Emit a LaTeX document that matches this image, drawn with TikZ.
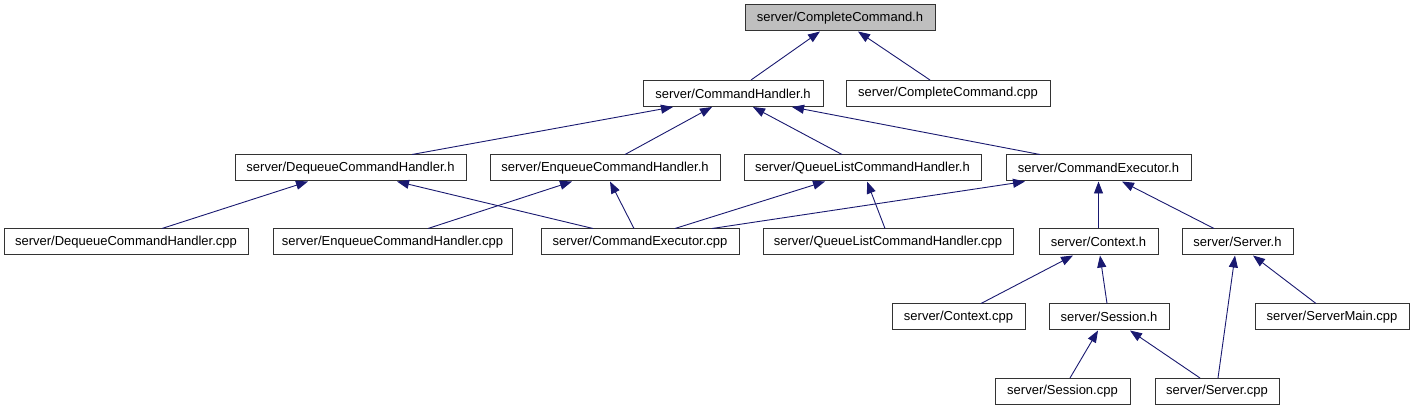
\documentclass[tikz,border=0pt]{standalone}
\usepackage{fontspec}
\setmainfont{Liberation Sans}
\usepackage{xcolor}
\usepackage{tikz}
\usetikzlibrary{arrows.meta}
\definecolor{depblue}{HTML}{191970}
\definecolor{topgray}{HTML}{BFBFBF}
\tikzset{
  file/.style={rectangle, draw=black!80, line width=1pt, fill=white, inner sep=0pt, minimum height=26pt, font=\fontsize{13}{15}\selectfont},
  root/.style={file, fill=topgray},
  dep/.style={draw=depblue, line width=0.9pt, -{Triangle[length=12pt, width=9pt]}},
}

\begin{document}
\begin{tikzpicture}[x=1pt, y=-1pt]
          \useasboundingbox (0,0) rectangle (1413,411);

          % row 1
          \node[root, minimum width=190pt] (completeh) at (840,18) {server/CompleteCommand.h};

          % row 2
          \node[file, minimum width=180pt] (handlerh) at (733,93.5) {server/CommandHandler.h};
          \node[file, minimum width=204pt] (completecpp) at (948,93.5) {server/CompleteCommand.cpp};

          % row 3
          \node[file, minimum width=231pt] (dequeueh) at (350.5,168) {server/DequeueCommandHandler.h};
          \node[file, minimum width=230pt] (enqueueh) at (605,168) {server/EnqueueCommandHandler.h};
          \node[file, minimum width=237pt] (queuelisth) at (862.5,168) {server/QueueListCommandHandler.h};
          \node[file, minimum width=185pt] (executorh) at (1098.5,168) {server/CommandExecutor.h};

          % row 4
          \node[file, minimum width=244pt] (dequeuecpp) at (126,242) {server/DequeueCommandHandler.cpp};
          \node[file, minimum width=239pt] (enqueuecpp) at (392.5,242) {server/EnqueueCommandHandler.cpp};
          \node[file, minimum width=198pt] (executorcpp) at (640,242) {server/CommandExecutor.cpp};
          \node[file, minimum width=250pt] (queuelistcpp) at (888,242) {server/QueueListCommandHandler.cpp};
          \node[file, minimum width=119pt] (contexth) at (1098.5,242) {server/Context.h};
          \node[file, minimum width=111pt] (serverh) at (1237.5,242) {server/Server.h};

          % row 5
          \node[file, minimum width=133pt] (contextcpp) at (958.5,317) {server/Context.cpp};
          \node[file, minimum width=120pt] (sessionh) at (1109,317) {server/Session.h};
          \node[file, minimum width=154pt] (servermaincpp) at (1332,317) {server/ServerMain.cpp};

          % row 6
          \node[file, minimum width=135pt] (sessioncpp) at (1062.5,391.5) {server/Session.cpp};
          \node[file, minimum width=124pt] (servercpp) at (1217,391.5) {server/Server.cpp};

          % includes
          \draw[dep] ([xshift=18pt]handlerh.north) -- ([xshift=-20pt]completeh.south);
          \draw[dep] ([xshift=-18pt]completecpp.north) -- ([xshift=18pt]completeh.south);

          \draw[dep] ([xshift=61.5pt]dequeueh.north) -- ([xshift=-60pt]handlerh.south);
          \draw[dep] ([xshift=20pt]enqueueh.north) -- ([xshift=-21pt]handlerh.south);
          \draw[dep] ([xshift=-20.5pt]queuelisth.north) -- ([xshift=20pt]handlerh.south);
          \draw[dep] ([xshift=-58.5pt]executorh.north) -- ([xshift=59pt]handlerh.south);

          \draw[dep] ([xshift=36pt]dequeuecpp.north) -- ([xshift=-42.5pt]dequeueh.south);
          \draw[dep] ([xshift=-47pt]executorcpp.north) -- ([xshift=46.5pt]dequeueh.south);
          \draw[dep] ([xshift=35.5pt]enqueuecpp.north) -- ([xshift=-33pt]enqueueh.south);
          \draw[dep] ([xshift=-6pt]executorcpp.north) -- ([xshift=5pt]enqueueh.south);
          \draw[dep] ([xshift=35pt]executorcpp.north) -- ([xshift=-37.5pt]queuelisth.south);
          \draw[dep] ([xshift=72pt]executorcpp.north) -- ([xshift=-73.5pt]executorh.south);
          \draw[dep] ([xshift=-3pt]queuelistcpp.north) -- ([xshift=4.5pt]queuelisth.south);
          \draw[dep] (contexth.north) -- (executorh.south);
          \draw[dep] ([xshift=-23.5pt]serverh.north) -- ([xshift=23.5pt]executorh.south);

          \draw[dep] ([xshift=22.5pt]contextcpp.north) -- ([xshift=-25.5pt]contexth.south);
          \draw[dep] ([xshift=-2pt]sessionh.north) -- ([xshift=1.5pt]contexth.south);
          \draw[dep] ([xshift=-16pt]servermaincpp.north) -- ([xshift=15.5pt]serverh.south);
          \draw[dep] ([xshift=1pt]servercpp.north) -- ([xshift=-2.5pt]serverh.south);

          \draw[dep] ([xshift=7.5pt]sessioncpp.north) -- ([xshift=-11pt]sessionh.south);
          \draw[dep] ([xshift=-17pt]servercpp.north) -- ([xshift=21pt]sessionh.south);
        \end{tikzpicture}
\end{document}
